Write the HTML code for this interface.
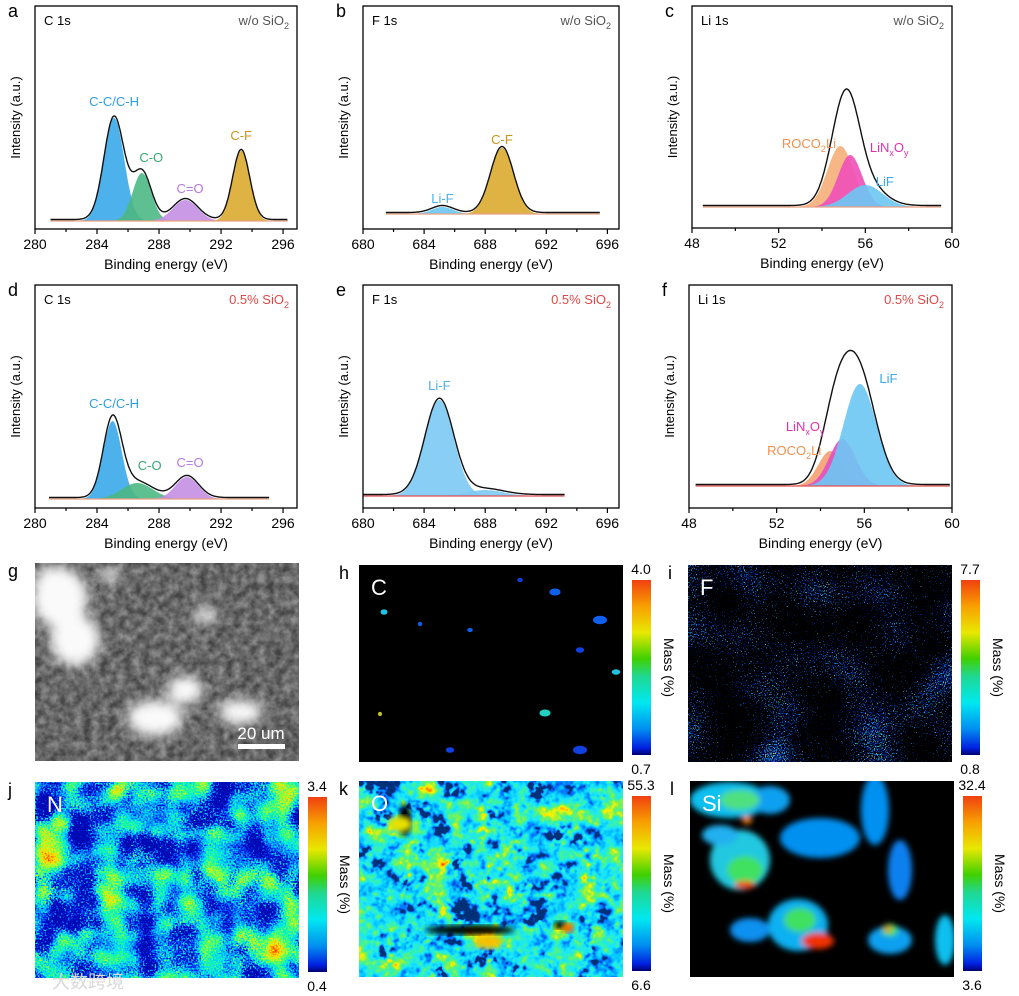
<!DOCTYPE html>
<html><head><meta charset="utf-8"><style>
html,body{margin:0;padding:0;background:#fff;}
svg{display:block;font-family:"Liberation Sans","Noto Sans CJK SC",sans-serif;}
</style></head><body>
<svg id="fig" width="1019" height="996" viewBox="0 0 1019 996" xmlns="http://www.w3.org/2000/svg">
<defs>
<linearGradient id="jet" x1="0" y1="0" x2="0" y2="1">
<stop offset="0" stop-color="#f04010"/><stop offset="0.15" stop-color="#f8a000"/><stop offset="0.3" stop-color="#e8e800"/>
<stop offset="0.45" stop-color="#40d000"/><stop offset="0.55" stop-color="#20d890"/><stop offset="0.7" stop-color="#00e8f0"/>
<stop offset="0.85" stop-color="#0090f0"/><stop offset="0.96" stop-color="#0020e0"/><stop offset="1" stop-color="#000070"/>
</linearGradient>
<filter id="fj" x="0" y="0" width="1" height="1" color-interpolation-filters="sRGB">
<feTurbulence type="fractalNoise" baseFrequency="0.03" numOctaves="2" seed="3" result="lo"/>
<feTurbulence type="fractalNoise" baseFrequency="0.6" numOctaves="1" seed="7" result="hi"/>
<feComposite in="lo" in2="hi" operator="arithmetic" k2="1" k3="0.6" k4="-0.3"/>
<feColorMatrix type="matrix" values="1 0 0 0 0 1 0 0 0 0 1 0 0 0 0 0 0 0 0 1"/>
<feComponentTransfer><feFuncR type="linear" slope="1.2" intercept="0.1"/><feFuncG type="linear" slope="1.2" intercept="0.1"/><feFuncB type="linear" slope="1.2" intercept="0.1"/></feComponentTransfer>
<feComponentTransfer><feFuncR type="table" tableValues="0 0 0 0 0.1 0.6 1 1 0.9"/><feFuncG type="table" tableValues="0 0.05 0.45 0.85 1 1 0.9 0.4 0"/><feFuncB type="table" tableValues="0 0.9 1 1 0.6 0.2 0 0 0"/></feComponentTransfer>
</filter>
<filter id="fk" x="0" y="0" width="1" height="1" color-interpolation-filters="sRGB">
<feTurbulence type="fractalNoise" baseFrequency="0.04" numOctaves="2" seed="11" result="lo"/>
<feTurbulence type="fractalNoise" baseFrequency="0.15" numOctaves="2" seed="5" result="hi"/>
<feComposite in="lo" in2="hi" operator="arithmetic" k2="1" k3="0.6" k4="-0.25"/>
<feColorMatrix type="matrix" values="1 0 0 0 0 1 0 0 0 0 1 0 0 0 0 0 0 0 0 1"/>
<feComponentTransfer><feFuncR type="linear" slope="1.2" intercept="0.06"/><feFuncG type="linear" slope="1.2" intercept="0.06"/><feFuncB type="linear" slope="1.2" intercept="0.06"/></feComponentTransfer>
<feComponentTransfer><feFuncR type="table" tableValues="0 0 0 0.1 0.2 0.5 1 1 1"/><feFuncG type="table" tableValues="0 0.4 0.75 0.9 0.95 0.95 0.95 0.6 0.2"/><feFuncB type="table" tableValues="0 1 1 1 0.7 0.3 0 0 0"/></feComponentTransfer>
</filter>
<filter id="fi" x="0" y="0" width="1" height="1" color-interpolation-filters="sRGB">
<feTurbulence type="fractalNoise" baseFrequency="0.02" numOctaves="1" seed="21" result="lo"/>
<feTurbulence type="fractalNoise" baseFrequency="0.9" numOctaves="1" seed="9" result="hi"/>
<feComposite in="lo" in2="hi" operator="arithmetic" k2="0.6" k3="1" k4="-0.35"/>
<feColorMatrix type="matrix" values="1 0 0 0 0 1 0 0 0 0 1 0 0 0 0 0 0 0 0 1"/>
<feComponentTransfer><feFuncR type="linear" slope="2.5" intercept="-0.4"/><feFuncG type="linear" slope="2.5" intercept="-0.4"/><feFuncB type="linear" slope="2.5" intercept="-0.4"/></feComponentTransfer>
<feComponentTransfer><feFuncR type="table" tableValues="0 0 0 0 0 0 0.3 0.8 1"/><feFuncG type="table" tableValues="0 0 0 0.05 0.3 0.7 0.9 0.9 0.6"/><feFuncB type="table" tableValues="0 0 0.15 0.5 0.9 1 0.7 0.3 0"/></feComponentTransfer>
</filter>
<filter id="fg" x="0" y="0" width="1" height="1" color-interpolation-filters="sRGB">
<feTurbulence type="fractalNoise" baseFrequency="0.12" numOctaves="3" seed="4"/>
<feColorMatrix type="matrix" values="1 0 0 0 0 1 0 0 0 0 1 0 0 0 0 0 0 0 0 1"/>
<feComponentTransfer><feFuncR type="linear" slope="1.6" intercept="-0.3"/><feFuncG type="linear" slope="1.6" intercept="-0.3"/><feFuncB type="linear" slope="1.6" intercept="-0.3"/></feComponentTransfer>
</filter>
<filter id="blur6"><feGaussianBlur stdDeviation="6"/></filter>
<filter id="blur3"><feGaussianBlur stdDeviation="3"/></filter>
<clipPath id="cg"><rect x="35" y="563" width="264" height="198"/></clipPath>
<clipPath id="ch"><rect x="359" y="565" width="264" height="197"/></clipPath>
<clipPath id="cl"><rect x="690" y="781" width="264" height="196"/></clipPath>
</defs>
<g id="charts"></g>
<g id="maps"></g>
</svg>
<script>
// ---------- data ----------
// panel a: C 1s w/o SiO2
const aCenters=[285.1,286.9,289.7,293.3];
const aHeights=[103,48,21,70];
const aSigmas=[0.65,0.6,0.8,0.55];
// panel b: F 1s w/o SiO2
const bCenters=[685.2,689.1];
const bHeights=[7,66];
const bSigmas=[0.7,0.75];
// panel c: Li 1s w/o SiO2
const cCenters=[54.85,55.3,56.0];
const cHeights=[61,52,22];
const cSigmas=[0.6,0.55,0.8];
// panel d: C 1s 0.5% SiO2
const dCenters=[285.0,286.6,289.8];
const dHeights=[78,16,22];
const dSigmas=[0.6,1.0,0.75];
// panel e: F 1s 0.5% SiO2
const eCenters=[685.0,688.0];
const eHeights=[96,6];
const eSigmas=[0.95,1.2];
// panel f: Li 1s 0.5% SiO2
const fCenters=[54.45,55.0,55.8];
const fHeights=[35,47,102];
const fSigmas=[0.55,0.6,0.75];
// axis ticks
const cTicks=[280,284,288,292,296];
const fTicks=[680,684,688,692,696];
const liTicks=[48,52,56,60];
// colorbar labels
const cbMax=["4.0","7.7","3.4","55.3","32.4"];
const cbMin=["0.7","0.8","0.4","6.6","3.6"];

const NS="http://www.w3.org/2000/svg";
const root=document.getElementById('charts');
function mk(tag,attrs,parent){const e=document.createElementNS(NS,tag);for(const k in attrs)e.setAttribute(k,attrs[k]);(parent||root).appendChild(e);return e;}
function txt(s,x,y,size,fill,anchor,parent){const t=mk('text',{x:x,y:y,'font-size':size,fill:fill||'#000','text-anchor':anchor||'start'},parent);t.innerHTML=s;return t;}

const panels=[
 {id:'a',L:35,R:297,T:6,B:229,x0:280,x1:296.9,base:221,d0:281,d1:296.3,ticks:cTicks,minor:2,C:aCenters,H:aHeights,S:aSigmas,
  fills:['#3aa8ea','#4cb884','#c48fe4','#dcaa30'],labels:[['C-C/C-H',285.1,106,'#2f9fe2'],['C-O',287.5,162,'#3aa870'],['C=O',290.0,193,'#b678e2'],['C-F',293.3,140,'#c9961a']],
  tag:'C 1s',cond:'w/o SiO<tspan font-size="9" dy="4">2</tspan>',condFill:'#555'},
 {id:'b',L:363,R:619,T:6,B:229,x0:680,x1:696.76,base:214,d0:681.5,d1:695.5,ticks:fTicks,minor:2,C:bCenters,H:bHeights,S:bSigmas,
  fills:['#6cc6f4','#dcaa30'],labels:[['Li-F',685.2,203,'#4cb0ea'],['C-F',689.1,144,'#c9961a']],
  tag:'F 1s',cond:'w/o SiO<tspan font-size="9" dy="4">2</tspan>',condFill:'#555'},
 {id:'c',L:692,R:952,T:6,B:228,x0:48,x1:60,base:207,d0:48.5,d1:59.5,ticks:liTicks,minor:2,C:cCenters,H:cHeights,S:cSigmas,
  fills:['#f6ae78','#ee50b8','#6cc6f4'],labels:[['ROCO<tspan font-size="9" dy="4">2</tspan><tspan dy="-4">Li</tspan>',53.4,148,'#f09050'],['LiN<tspan font-size="9" dy="4">x</tspan><tspan dy="-4">O</tspan><tspan font-size="9" dy="4">y</tspan>',57.1,152,'#e030b0'],['LiF',56.9,186,'#3aa8ea']],
  tag:'Li 1s',cond:'w/o SiO<tspan font-size="9" dy="4">2</tspan>',condFill:'#555'},
 {id:'d',L:35,R:297,T:285,B:508,x0:280,x1:296.9,base:499,d0:280.9,d1:295.1,ticks:cTicks,minor:2,C:dCenters,H:dHeights,S:dSigmas,
  fills:['#3aa8ea','#4cb884','#c48fe4'],labels:[['C-C/C-H',285.1,408,'#2f9fe2'],['C-O',287.4,470,'#3aa870'],['C=O',290.0,467,'#b678e2']],
  tag:'C 1s',cond:'0.5% SiO<tspan font-size="9" dy="4">2</tspan>',condFill:'#e04848'},
 {id:'e',L:363,R:619,T:285,B:508,x0:680,x1:696.76,base:496,d0:680,d1:693.2,ticks:fTicks,minor:2,C:eCenters,H:eHeights,S:eSigmas,
  fills:['#7ccaf4','#7ccaf4'],labels:[['Li-F',685.0,390,'#4cb0ea']],
  tag:'F 1s',cond:'0.5% SiO<tspan font-size="9" dy="4">2</tspan>',condFill:'#e04848'},
 {id:'f',L:689,R:952,T:285,B:508,x0:48,x1:60,base:486,d0:48.3,d1:59.9,ticks:liTicks,minor:2,C:fCenters,H:fHeights,S:fSigmas,
  fills:['#f6a070','#e050c0','#6cc6f4'],labels:[['LiF',57.1,383,'#3aa8ea'],['LiN<tspan font-size="9" dy="4">x</tspan><tspan dy="-4">O</tspan><tspan font-size="9" dy="4">y</tspan>',53.3,431,'#e030b0'],['ROCO<tspan font-size="9" dy="4">2</tspan><tspan dy="-4">Li</tspan>',52.8,455,'#f09050']],
  tag:'Li 1s',cond:'0.5% SiO<tspan font-size="9" dy="4">2</tspan>',condFill:'#e04848'}
];

function gauss(x,c,h,s){return h*Math.exp(-(x-c)*(x-c)/(2*s*s));}

panels.forEach(p=>{
 const g=mk('g',{});
 
 
 const sx=v=>p.L+(v-p.x0)/(p.x1-p.x0)*(p.R-p.L);
 const sy=v=>p.base-v;
 const step=0.04;
 const xs=[];for(let x=p.d0;x<=p.d1+1e-9;x+=step)xs.push(x);
 p.C.forEach((c,i)=>{
  let d='M'+sx(xs[0]).toFixed(1)+','+sy(0);
  xs.forEach(x=>{d+='L'+sx(x).toFixed(1)+','+sy(gauss(x,c,p.H[i],p.S[i])).toFixed(1);});
  d+='L'+sx(xs[xs.length-1]).toFixed(1)+','+sy(0)+'Z';
  const pa=mk('path',{d:d,fill:p.fills[i],'fill-opacity':0.9,stroke:'none'},g);
  
  
 });
 const bl=mk('line',{x1:sx(p.d0),x2:sx(p.d1),y1:sy(0),y2:sy(0),stroke:(p.id==='f'||p.id==='e')?'#e05050':'#e8a080','stroke-width':1.2},g);
 
 
 let d='';
 xs.forEach((x,k)=>{let v=0;p.C.forEach((c,i)=>v+=gauss(x,c,p.H[i],p.S[i]));d+=(k?'L':'M')+sx(x).toFixed(1)+','+(sy(v)-1.5).toFixed(1);});
 const env=mk('path',{d:d,fill:'none',stroke:'#111','stroke-width':1.4},g);
 
 
 const fr=mk('rect',{x:p.L,y:p.T,width:p.R-p.L,height:p.B-p.T,fill:'none',stroke:'#000','stroke-width':1.3},g);
 
 
 for(let v=p.ticks[0];v<=p.ticks[p.ticks.length-1];v+=p.minor){
  const tk=mk('line',{x1:sx(v),x2:sx(v),y1:p.B,y2:p.B+(p.ticks.includes(v)?5:3),stroke:'#000','stroke-width':1.2},g);
  
  
 }
 p.ticks.forEach(v=>{const t=txt(String(v),sx(v),p.B+20,14,'#000','middle',g);
  
  });
 const xt=txt('Binding energy (eV)',(p.L+p.R)/2,p.B+40,14,'#000','middle',g);
 
 
 const yc=(p.T+p.B)/2, yx=p.L-15;
 const yt=txt('Intensity (a.u.)',yx,yc,13,'#000','middle',g);
 yt.setAttribute('transform','rotate(-90 '+yx+' '+yc+')');
 
 
 const letter=txt(p.id,p.L-27,p.T+11,18,'#000','start',g);
 
 
 const tg=txt(p.tag,p.L+9,p.T+19,13,'#000','start',g);
 
 
 const cd=txt(p.cond,p.R-8,p.T+19,13,p.condFill,'end',g);
 
 
 p.labels.forEach(l=>{const t=txt(l[0],sx(l[1]),l[2],13,l[3],'middle',g);
  
  });
});

// ---------- maps ----------
const maps=document.getElementById('maps');
const mapDefs=[
 {id:'g',x:35,y:563,w:264,h:198},
 {id:'h',x:359,y:565,w:264,h:197,el:'C'},
 {id:'i',x:688,y:565,w:264,h:197,el:'F'},
 {id:'j',x:35,y:782,w:264,h:196,el:'N'},
 {id:'k',x:359,y:781,w:264,h:196,el:'O'},
 {id:'l',x:690,y:781,w:264,h:196,el:'Si'}
];
mapDefs.forEach((m,idx)=>{
 const g=mk('g',{},maps);
 
 
 if(m.id==='g'){
  mk('rect',{x:m.x,y:m.y,width:m.w,height:m.h,fill:'#5e5e5e'},g);
  mk('rect',{x:m.x,y:m.y,width:m.w,height:m.h,filter:'url(#fg)',opacity:0.3},g);
  const cg=mk('g',{'clip-path':'url(#cg)',filter:'url(#blur6)'},g);
  [[60,598,28,30],[75,640,25,26],[55,580,20,14],[155,718,28,18],[185,690,18,14],[240,712,22,12],[205,615,10,8],[110,575,10,6]].forEach(e=>mk('ellipse',{cx:e[0],cy:e[1],rx:e[2],ry:e[3],fill:'#fafafa'},cg));
  const sb=mk('rect',{x:238,y:744,width:47,height:5,fill:'#fff'},g);
  
  
  const st=txt('20 um',261,739,17,'#fff','middle',g);
  
  
 } else if(m.id==='h'){
  mk('rect',{x:m.x,y:m.y,width:m.w,height:m.h,fill:'#000'},g);
  const ch=mk('g',{'clip-path':'url(#ch)'},g);
  [[384,612,5,4,'#20c0e0'],[555,592,8,5,'#1060f0'],[600,620,10,6,'#1060f0'],[545,713,8,5,'#20d0c0'],[616,672,6,4,'#20c0e0'],[420,624,3,3,'#1060f0'],[470,630,4,3,'#1060f0'],[580,650,6,4,'#1040e0'],[580,750,10,6,'#1040e0'],[450,750,6,4,'#1040e0'],[380,714,3,3,'#c0c020'],[520,580,4,3,'#1040e0']].forEach(e=>mk('ellipse',{cx:e[0],cy:e[1],rx:e[2]*0.7,ry:e[3]*0.7,fill:e[4]},ch));
 } else if(m.id==='i'){
  mk('rect',{x:m.x,y:m.y,width:m.w,height:m.h,fill:'#000'},g);
  mk('rect',{x:m.x,y:m.y,width:m.w,height:m.h,filter:'url(#fi)'},g);
 } else if(m.id==='j'){
  mk('rect',{x:m.x,y:m.y,width:m.w,height:m.h,filter:'url(#fj)'},g);
 } else if(m.id==='k'){
  mk('rect',{x:m.x,y:m.y,width:m.w,height:m.h,filter:'url(#fk)'},g);
  [[405,820,6,16],[470,930,45,5],[560,925,6,4]].forEach(e=>mk('ellipse',{cx:e[0],cy:e[1],rx:e[2],ry:e[3],fill:'#000',filter:'url(#blur3)'},g));
  [[488,942,14,7,'#f8c000'],[400,824,12,8,'#e8e000'],[568,928,6,5,'#f06000']].forEach(e=>mk('ellipse',{cx:e[0],cy:e[1],rx:e[2],ry:e[3],fill:e[4],filter:'url(#blur3)'},g));
 } else if(m.id==='l'){
  mk('rect',{x:m.x,y:m.y,width:m.w,height:m.h,fill:'#000'},g);
  const cl=mk('g',{'clip-path':'url(#cl)'},g);
  const bl=mk('g',{filter:'url(#blur3)'},cl);
  [[730,800,40,18,'#10c0f0'],[740,860,30,30,'#20c8e0'],[720,835,18,10,'#20b0f0'],[770,800,20,14,'#10a0f0'],[820,838,40,20,'#0090f0'],[798,925,30,26,'#10b0f0'],[875,810,14,35,'#0090f0'],[900,870,12,30,'#1080f0'],[945,940,10,25,'#10c0f0'],[750,930,20,12,'#1090f0'],[890,940,22,14,'#10a0f0']].forEach(e=>mk('ellipse',{cx:e[0],cy:e[1],rx:e[2],ry:e[3],fill:e[4]},bl));
  [[745,870,18,14,'#40e060'],[740,800,20,10,'#50e080'],[800,920,16,12,'#40e060'],[890,930,8,6,'#40e060']].forEach(e=>mk('ellipse',{cx:e[0],cy:e[1],rx:e[2],ry:e[3],fill:e[4]},bl));
  [[818,941,16,8,'#f03000'],[745,885,10,4,'#f04000'],[747,820,5,4,'#f08000'],[888,929,4,3,'#f08000']].forEach(e=>mk('ellipse',{cx:e[0],cy:e[1],rx:e[2],ry:e[3],fill:e[4]},bl));
 }
 if(m.el){const t=txt(m.el,m.x+12,m.y+30,22,'#fff','start',g);
  
  }
 const lt=txt(m.id,m.x-(m.id==='g'||m.id==='j'?27:20),m.y+14,18,'#000','start',g);
 
 
 if(m.id!=='g'){
  const k=idx-1;
  const cx=m.x+m.w+9, cy0=m.y+15, ch=175;
  const cb=mk('rect',{x:cx,y:cy0,width:19,height:ch,fill:'url(#jet)'},g);
  
  
  const t1=txt(cbMax[k],cx+9,cy0-6,14,'#000','middle',g);
  
  
  const t2=txt(cbMin[k],cx+9,cy0+ch+19,14,'#000','middle',g);
  
  
  const mx=cx+32, my=cy0+ch/2;
  const mt=txt('Mass (%)',mx,my,14,'#000','middle',g);
  mt.setAttribute('transform','rotate(90 '+mx+' '+my+')');
  
  
 }
});
const wm=txt('大数跨境',52,988,18,'#d8d8d8','start',maps);


</script>
</body></html>
